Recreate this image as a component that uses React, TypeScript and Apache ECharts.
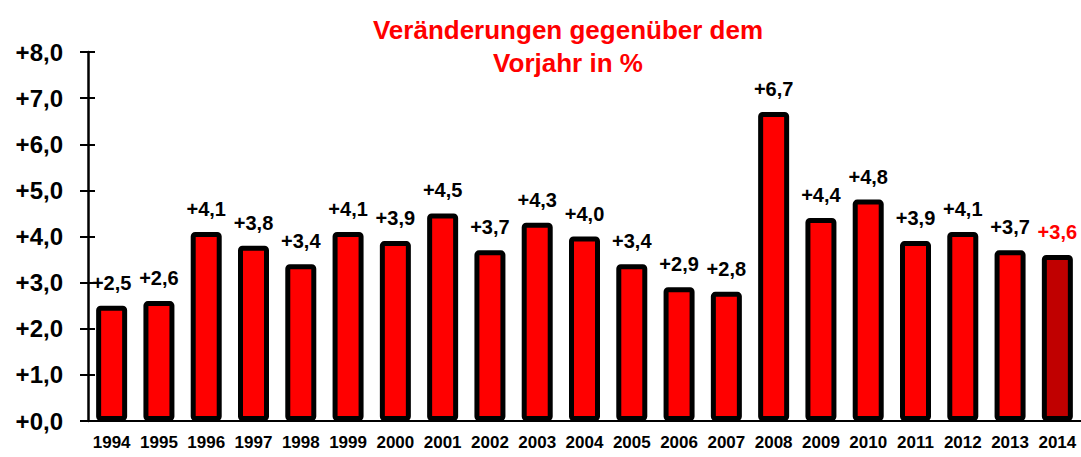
import React, { useEffect, useRef } from "react";
import * as echarts from "echarts";

const years = ["1994","1995","1996","1997","1998","1999","2000","2001","2002","2003","2004","2005","2006","2007","2008","2009","2010","2011","2012","2013","2014"];
const values = [2.5,2.6,4.1,3.8,3.4,4.1,3.9,4.5,3.7,4.3,4.0,3.4,2.9,2.8,6.7,4.4,4.8,3.9,4.1,3.7,3.6];
const titleLines = ["Veränderungen gegenüber dem", "Vorjahr in %"];

const fmt = (v: number) => "+" + v.toFixed(1).replace(".", ",");

export default function App() {
  const ref = useRef<HTMLDivElement>(null);
  useEffect(() => {
    if (!ref.current) return;
    const chart = echarts.init(ref.current, undefined, { renderer: "svg" });
    const last = values.length - 1;
    chart.setOption({
      animation: false,
      backgroundColor: "#ffffff",
      title: {
        text: titleLines.join("\n"),
        left: 563,
        top: 8,
        textAlign: "center",
        textStyle: {
          color: "#ff0000",
          fontFamily: "Liberation Sans, Arial, sans-serif",
          fontWeight: "bold",
          fontSize: 26,
          lineHeight: 33,
        },
      },
      grid: { left: 88, right: -1, top: 52, bottom: 36 },
      xAxis: {
        type: "category",
        data: years,
        axisLine: { show: true, lineStyle: { color: "#000", width: 2 } },
        axisTick: { show: false },
        axisLabel: {
          color: "#000",
          fontFamily: "Liberation Sans, Arial, sans-serif",
          fontWeight: "bold",
          fontSize: 17,
          margin: 13,
          interval: 0,
        },
      },
      yAxis: [
        {
          type: "value",
          min: 0,
          max: 8,
          interval: 1,
          splitLine: { show: false },
          axisLine: { show: true, lineStyle: { color: "#000", width: 2.5 } },
          axisTick: { show: true, length: 8, lineStyle: { color: "#000", width: 2 } },
          axisLabel: {
            formatter: (v: number) => fmt(v),
            color: "#000",
            fontFamily: "Liberation Sans, Arial, sans-serif",
            fontWeight: "bold",
            fontSize: 24,
            margin: 25,
          },
        },
        {
          type: "value",
          min: 0,
          max: 8,
          interval: 1,
          position: "left",
          splitLine: { show: false },
          axisLine: { show: false },
          axisTick: { show: true, inside: true, length: 7, lineStyle: { color: "#000", width: 2 } },
          axisLabel: { show: false },
        },
      ],
      series: [
        {
          type: "bar",
          barWidth: 31,
          data: values.map((v, i) => ({
            value: v,
            itemStyle: { color: i === last ? "#c00000" : "#ff0000" },
            label: { color: i === last ? "#ff0000" : "#000" },
          })),
          itemStyle: { borderColor: "#000", borderWidth: 5, borderRadius: 2 },
          label: {
            show: true,
            position: "top",
            distance: 13,
            formatter: (p: any) => fmt(p.value),
            fontFamily: "Liberation Sans, Arial, sans-serif",
            fontWeight: "bold",
            fontSize: 20,
          },
        },
      ],
    });
    return () => chart.dispose();
  }, []);
  return <div ref={ref} style={{ width: 1081, height: 457, position: "absolute", left: 0, top: 0 }} />;
}
